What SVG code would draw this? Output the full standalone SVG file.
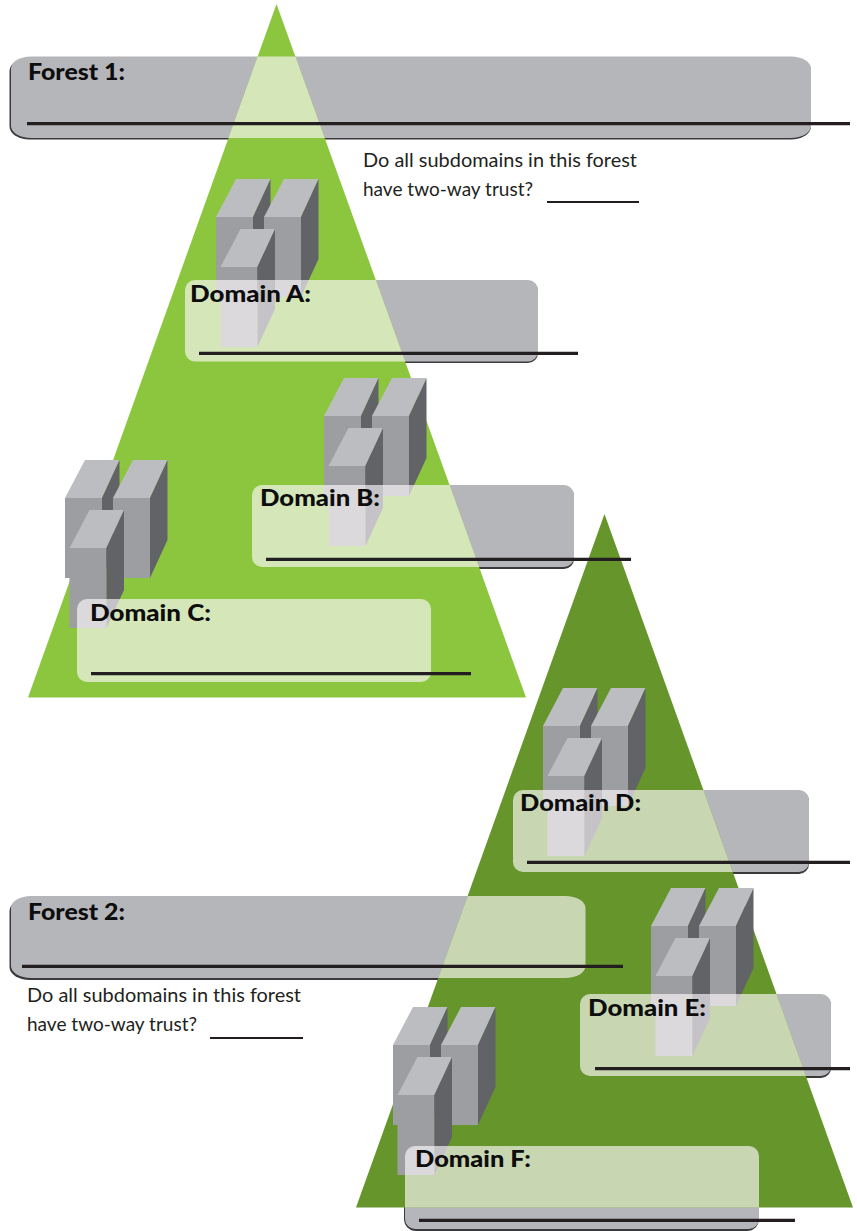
<svg xmlns="http://www.w3.org/2000/svg" width="857" height="1231" viewBox="0 0 857 1231">
<style>
text{font-family:Lato,"Liberation Sans",sans-serif;fill:#0d0d0d}
.h{font-size:23px;font-weight:900}
.b{font-size:20px;font-weight:400;fill:#231f20}
.gray{fill:#b5b6ba}
.edge{fill:#3a3a3c}
.glass{fill:#fffaff;fill-opacity:.64}
.ln{stroke:#231f20;stroke-width:3.200;fill:none}
.thin{stroke:#231f20;stroke-width:2;fill:none}
.top{fill:#bcbdc1}.front{fill:#9d9ea2}.side{fill:#626366}
</style>
<defs>
<g id="srv"><polygon class="top" points="0,38 20,0 54.500,0 37,38"/><polygon class="front" points="0,38 37,38 37,118 0,118"/><polygon class="side" points="37,38 54.500,0 54.500,80 37,118"/></g>
<g id="cluster"><use href="#srv"/><use href="#srv" x="48"/><use href="#srv" x="4.500" y="50"/></g>
<clipPath id="c1"><polygon points="276.500,4 28,697.500 526,697.500"/><polygon points="604.500,514 356,1207.500 853,1207.500"/>
<rect x="216" y="179" width="103" height="169"/><rect x="324" y="378" width="103" height="171"/><rect x="65" y="460" width="103" height="169"/><rect x="543" y="688" width="103" height="171"/><rect x="651" y="888" width="103" height="169"/><rect x="393" y="1007" width="103" height="169"/></clipPath>
</defs>
<g id="forest-1-panel-base"><rect class="edge" x="9.500" y="58" width="801.500" height="81.500" rx="20" ry="13"/><rect class="gray" x="11" y="56.500" width="800" height="81.500" rx="20" ry="12"/></g>
<g id="domain-a-base"><rect class="edge" x="185" y="281" width="353" height="82" rx="10"/><rect class="gray" x="185" y="280" width="353" height="81.500" rx="10"/></g>
<g id="domain-b-base"><rect class="edge" x="252" y="486" width="322" height="83" rx="10"/><rect class="gray" x="252" y="485" width="322" height="82" rx="10"/></g>
<g id="domain-d-base"><rect class="edge" x="513" y="791" width="296" height="83" rx="10"/><rect class="gray" x="513" y="790" width="296" height="82" rx="10"/></g>
<g id="domain-e-base"><rect class="edge" x="580" y="995" width="251" height="83" rx="10"/><rect class="gray" x="580" y="994" width="251" height="82" rx="10"/></g>
<g id="domain-f-base"><rect class="edge" x="404" y="1147" width="355" height="84" rx="12"/><rect class="gray" x="405" y="1146" width="354" height="83" rx="10"/></g>
<g id="forest-2-base"><rect class="edge" x="9.500" y="898" width="576" height="82" rx="20" ry="13"/><rect class="gray" x="11" y="896" width="574.500" height="82" rx="20" ry="12"/></g>
<g id="forest-1-triangle"><polygon points="276.500,4 28,697.500 526,697.500" fill="#8cc63f"/></g>
<g id="forest-2-triangle"><polygon points="604.500,514 356,1207.500 853,1207.500" fill="#66952b"/></g>
<g id="servers-a"><use href="#cluster" x="216" y="179"/></g>
<g id="servers-b"><use href="#cluster" x="324" y="378"/></g>
<g id="servers-c"><use href="#cluster" x="65" y="460"/></g>
<g id="servers-d"><use href="#cluster" x="543" y="688"/></g>
<g id="servers-e"><use href="#cluster" x="651" y="888"/></g>
<g id="servers-f"><use href="#cluster" x="393" y="1007"/></g>
<g id="glass" clip-path="url(#c1)">
<rect class="glass" x="10" y="56.500" width="801" height="81.500" rx="20" ry="12"/>
<rect class="glass" x="185" y="280" width="353" height="81.500" rx="10"/>
<rect class="glass" x="252" y="485" width="322" height="82" rx="10"/>
<rect class="glass" x="77" y="599" width="354" height="83" rx="10"/>
<rect class="glass" x="513" y="790" width="296" height="82" rx="10"/>
<rect class="glass" x="580" y="994" width="251" height="82" rx="10"/>
<rect class="glass" x="405" y="1146" width="354" height="83" rx="10"/>
<rect class="glass" x="10" y="896" width="575.500" height="82" rx="20" ry="12"/>
</g>
<g id="connectors">
<line class="ln" x1="27" y1="123.700" x2="850" y2="123.700"/>
<line class="ln" x1="199" y1="353.400" x2="578" y2="353.400"/>
<line class="ln" x1="266" y1="559.400" x2="631" y2="559.400"/>
<line class="ln" x1="91" y1="673.700" x2="471" y2="673.700"/>
<line class="ln" x1="527" y1="862.400" x2="850" y2="862.400"/>
<line class="ln" x1="595" y1="1068.700" x2="850" y2="1068.700"/>
<line class="ln" x1="419" y1="1220.400" x2="795" y2="1220.400"/>
<line class="ln" x1="22" y1="966.400" x2="623" y2="966.400"/>
<line class="thin" x1="547" y1="202" x2="639" y2="202"/>
<line class="thin" x1="210" y1="1038" x2="303" y2="1038"/>
</g>
<g id="labels">
<text class="h" x="28" y="80" textLength="97" lengthAdjust="spacingAndGlyphs">Forest 1:</text>
<text class="h" x="190" y="302" textLength="121" lengthAdjust="spacingAndGlyphs">Domain A:</text>
<text class="h" x="260" y="506" textLength="120" lengthAdjust="spacingAndGlyphs">Domain B:</text>
<text class="h" x="90" y="621" textLength="121" lengthAdjust="spacingAndGlyphs">Domain C:</text>
<text class="h" x="520" y="811" textLength="121" lengthAdjust="spacingAndGlyphs">Domain D:</text>
<text class="h" x="588" y="1016" textLength="118" lengthAdjust="spacingAndGlyphs">Domain E:</text>
<text class="h" x="415" y="1167" textLength="116" lengthAdjust="spacingAndGlyphs">Domain F:</text>
<text class="h" x="28" y="920" textLength="97" lengthAdjust="spacingAndGlyphs">Forest 2:</text>
<text class="b" x="363" y="167" textLength="274" lengthAdjust="spacingAndGlyphs">Do all subdomains in this forest</text>
<text class="b" x="363" y="196" textLength="170" lengthAdjust="spacingAndGlyphs">have two-way trust?</text>
<text class="b" x="27" y="1002" textLength="274" lengthAdjust="spacingAndGlyphs">Do all subdomains in this forest</text>
<text class="b" x="27" y="1031" textLength="170" lengthAdjust="spacingAndGlyphs">have two-way trust?</text>
</g>
</svg>
